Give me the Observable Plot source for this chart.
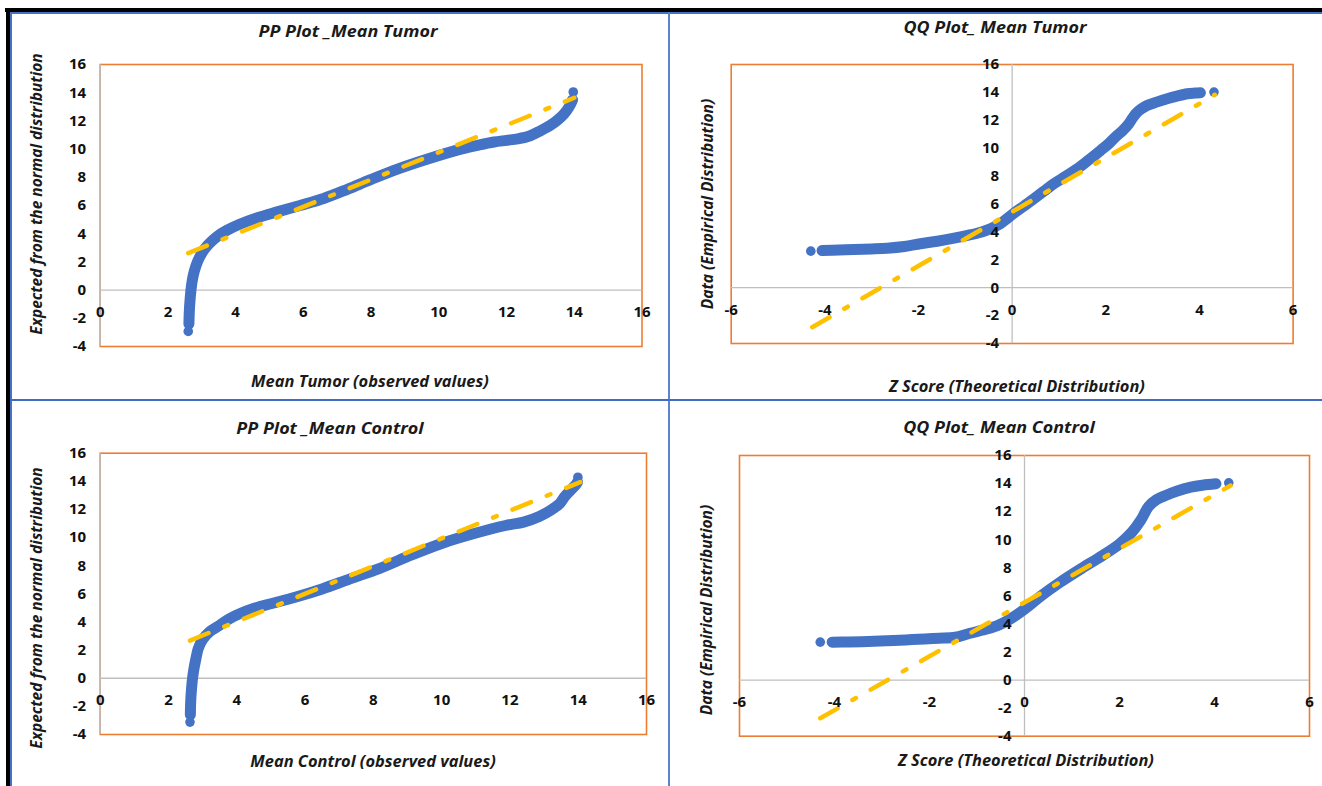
<!DOCTYPE html>
<html><head><meta charset="utf-8">
<script src="https://cdn.jsdelivr.net/npm/d3@7"></script>
<script src="https://cdn.jsdelivr.net/npm/@observablehq/plot@0.6"></script>
<style>
body{margin:0;background:#fff;}
#page{position:relative;width:1322px;height:786px;overflow:hidden;font-family:"Open Sans",sans-serif;background:#fff;}
.panel{position:absolute;}
.t{position:absolute;white-space:nowrap;font-weight:700;font-style:italic;color:#1a1a1a;line-height:1;}
.title{font-size:16px;transform:translate(-50%,-50%) scaleX(1.12);}
.axt{font-size:15.5px;transform:translate(-50%,-50%) scaleX(1.06);}
.rot{font-size:15.5px;transform:translate(-50%,-50%) rotate(-90deg);}
.bar{position:absolute;z-index:5;}
</style></head><body><div id="page"></div>
<script>
// ---------- DATA ----------
const ppXTicks = [0, 2, 4, 6, 8, 10, 12, 14, 16];
const qqXTicks = [-6, -4, -2, 0, 2, 4, 6];
const yTicks = [-4, -2, 0, 2, 4, 6, 8, 10, 12, 14, 16];

// PP Plot _Mean Tumor
const ppTumorX = [2.62, 2.63, 2.65, 2.68, 2.72, 2.78, 2.88, 3.02, 3.2, 3.45, 3.75, 4.1, 4.6, 5.23, 5.9, 6.6, 7.3, 8.0, 8.8, 9.67, 10.65, 11.2, 11.63, 12.0, 12.33, 12.7, 13.0, 13.3, 13.5, 13.7, 13.85, 13.95];
const ppTumorY = [-2.4, -1.6, -0.8, 0, 0.7, 1.35, 2.05, 2.7, 3.25, 3.8, 4.25, 4.65, 5.1, 5.55, 6.0, 6.5, 7.15, 7.85, 8.6, 9.3, 10.0, 10.3, 10.5, 10.62, 10.73, 10.95, 11.3, 11.7, 12.05, 12.5, 13.0, 13.5];
const ppTumorEndX = [2.6, 13.97];
const ppTumorEndY = [-2.93, 14.05];
const ppTumorTrendX = [2.6, 14.0];
const ppTumorTrendY = [2.62, 13.64];

// QQ Plot_ Mean Tumor
const qqTumorX = [-4.06, -3.7, -3.38, -3.0, -2.67, -2.3, -1.96, -1.6, -1.24, -0.95, -0.67, -0.45, -0.25, 0.04, 0.25, 0.46, 0.67, 0.89, 1.14, 1.39, 1.64, 1.89, 2.07, 2.24, 2.37, 2.49, 2.57, 2.64, 2.75, 2.88, 3.1, 3.31, 3.52, 3.74, 3.9, 4.02];
const qqTumorY = [2.67, 2.7, 2.74, 2.78, 2.83, 2.95, 3.15, 3.33, 3.55, 3.75, 3.98, 4.25, 4.6, 5.35, 5.85, 6.37, 6.9, 7.45, 7.98, 8.52, 9.17, 9.84, 10.35, 10.91, 11.3, 11.75, 12.15, 12.47, 12.8, 13.06, 13.32, 13.54, 13.73, 13.9, 13.95, 13.97];
const qqTumorEndX = [-4.3, 4.31];
const qqTumorEndY = [2.62, 14.02];
const qqTumorTrendX = [-4.27, 4.33];
const qqTumorTrendY = [-2.83, 13.83];

// PP Plot _Mean Control
const ppControlX = [2.64, 2.65, 2.67, 2.7, 2.74, 2.8, 2.87, 3.0, 3.2, 3.49, 3.8, 4.1, 4.47, 5.0, 5.71, 6.5, 7.3, 8.17, 9.0, 10.02, 10.9, 11.87, 12.4, 12.86, 13.2, 13.45, 13.6, 13.75, 13.91, 13.98];
const ppControlY = [-2.6, -1.7, -0.9, -0.1, 0.6, 1.35, 2.1, 2.75, 3.3, 3.75, 4.25, 4.6, 4.94, 5.3, 5.76, 6.35, 7.05, 7.8, 8.65, 9.6, 10.25, 10.86, 11.1, 11.5, 11.95, 12.4, 12.9, 13.3, 13.7, 13.95];
const ppControlEndX = [2.63, 13.99];
const ppControlEndY = [-3.12, 14.29];
const ppControlTrendX = [2.63, 14.06];
const ppControlTrendY = [2.68, 13.94];

// QQ Plot_ Mean Control
const qqControlX = [-4.05, -3.7, -3.3, -2.9, -2.5, -2.1, -1.8, -1.46, -1.2, -0.9, -0.57, -0.3, 0.01, 0.35, 0.75, 1.2, 1.64, 2.0, 2.26, 2.45, 2.61, 2.78, 2.97, 3.2, 3.5, 3.75, 4.03];
const qqControlY = [2.7, 2.72, 2.75, 2.8, 2.86, 2.93, 2.98, 3.05, 3.28, 3.55, 3.88, 4.35, 5.07, 6.0, 6.97, 7.95, 8.87, 9.7, 10.53, 11.4, 12.35, 12.85, 13.15, 13.45, 13.74, 13.88, 13.98];
const qqControlEndX = [-4.3, 4.3];
const qqControlEndY = [2.7, 14.05];
const qqControlTrendX = [-4.3, 4.34];
const qqControlTrendY = [-2.72, 13.86];

const texts = {
  t1: "PP Plot _Mean Tumor", x1: "Mean Tumor (observed values)", y1: "Expected from the normal distribution",
  t2: "QQ Plot_ Mean Tumor", x2: "Z Score (Theoretical Distribution)", y2: "Data (Empirical Distribution)",
  t3: "PP Plot _Mean Control", x3: "Mean Control (observed values)", y3: "Expected from the normal distribution",
  t4: "QQ Plot_ Mean Control", x4: "Z Score (Theoretical Distribution)", y4: "Data (Empirical Distribution)"
};

// ---------- helpers ----------
const zip = (xs, ys) => xs.map((x, i) => ({x, y: ys[i]}));
const page = document.getElementById("page");

const BLUE = "#4472C4", ORANGE = "#ED7D31", GOLD = "#FFC000", GRID = "#BFBFBF";

function panel(cfg) {
  const {box, frame, xDomain, xTicks, band, ends, trend, yLabDx} = cfg;
  const mL = frame.L - box.left, mR = box.left + box.w - frame.R;
  const mT = frame.T - box.top, mB = box.top + box.h - frame.B;
  const chart = Plot.plot({
    width: box.w, height: box.h,
    marginLeft: mL, marginRight: mR, marginTop: mT, marginBottom: mB,
    style: {fontFamily: "'Open Sans', sans-serif", background: "transparent", overflow: "visible"},
    x: {domain: xDomain, axis: null},
    y: {domain: [-4, 16], axis: null},
    marks: [
      Plot.frame({stroke: ORANGE, strokeWidth: 1.6}),
      Plot.ruleY([0], {stroke: GRID, strokeWidth: 1.3}),
      Plot.ruleX([0], {stroke: GRID, strokeWidth: 1.3}),
      Plot.line(band, {x: "x", y: "y", stroke: BLUE, strokeWidth: 11, strokeLinecap: "round", strokeLinejoin: "round", curve: "catmull-rom"}),
      Plot.dot(ends, {x: "x", y: "y", r: 4.8, fill: BLUE, stroke: null}),
      Plot.line(trend, {x: "x", y: "y", stroke: GOLD, strokeWidth: 4.5, strokeDasharray: "20,17,4,17"}),
      Plot.text(xTicks, {x: d => d, y: 0, dy: 22, text: d => String(d), fontSize: 15, fontWeight: 700, fill: "#111"}),
      Plot.text(yTicks, {x: 0, y: d => d, dx: yLabDx, textAnchor: "end", text: d => String(d), fontSize: 15, fontWeight: 700, fill: "#111"})
    ]
  });
  chart.classList.add("panel");
  chart.style.left = box.left + "px";
  chart.style.top = box.top + "px";
  page.appendChild(chart);
}

function label(txt, x, y, cls) {
  const d = document.createElement("div");
  d.className = "t " + cls;
  d.textContent = txt;
  d.style.left = x + "px";
  d.style.top = y + "px";
  page.appendChild(d);
}
function bar(l, t, w, h, c) {
  const d = document.createElement("div");
  d.className = "bar";
  Object.assign(d.style, {left: l + "px", top: t + "px", width: w + "px", height: h + "px", background: c});
  page.appendChild(d);
}

panel({box: {left: 12, top: 13, w: 656, h: 386}, frame: {L: 99.7, R: 641.5, T: 64, B: 346},
  xDomain: [0, 16], xTicks: ppXTicks, yLabDx: -14,
  band: zip(ppTumorX, ppTumorY), ends: zip(ppTumorEndX, ppTumorEndY), trend: zip(ppTumorTrendX, ppTumorTrendY)});
panel({box: {left: 670, top: 13, w: 652, h: 386}, frame: {L: 730.7, R: 1292.6, T: 64, B: 343},
  xDomain: [-6, 6], xTicks: qqXTicks, yLabDx: -13,
  band: zip(qqTumorX, qqTumorY), ends: zip(qqTumorEndX, qqTumorEndY), trend: zip(qqTumorTrendX, qqTumorTrendY)});
panel({box: {left: 12, top: 401, w: 656, h: 385}, frame: {L: 99.7, R: 646, T: 452.7, B: 734},
  xDomain: [0, 16], xTicks: ppXTicks, yLabDx: -14,
  band: zip(ppControlX, ppControlY), ends: zip(ppControlEndX, ppControlEndY), trend: zip(ppControlTrendX, ppControlTrendY)});
panel({box: {left: 670, top: 401, w: 652, h: 385}, frame: {L: 739, R: 1309, T: 455, B: 735.7},
  xDomain: [-6, 6], xTicks: qqXTicks, yLabDx: -13,
  band: zip(qqControlX, qqControlY), ends: zip(qqControlEndX, qqControlEndY), trend: zip(qqControlTrendX, qqControlTrendY)});

label(texts.t1, 348, 31, "title"); label(texts.x1, 370, 382, "axt"); label(texts.y1, 37, 194, "rot");
label(texts.t2, 995, 27, "title"); label(texts.x2, 1017, 387, "axt"); label(texts.y2, 708, 204, "rot");
label(texts.t3, 330, 428, "title"); label(texts.x3, 373, 762, "axt"); label(texts.y3, 37, 608, "rot");
label(texts.t4, 999, 427, "title"); label(texts.x4, 1026, 761, "axt"); label(texts.y4, 707, 610, "rot");

// outer border and dividers
bar(5, 8, 1317, 4, "#000");
bar(6, 8, 4, 778, "#000");
bar(10, 12, 1312, 1.5, BLUE);
bar(10, 12, 1.5, 774, BLUE);
bar(668, 12, 2.2, 774, "#5b84cc");
bar(10, 399, 1312, 2.4, "#3f6cc0");
</script></body></html>
